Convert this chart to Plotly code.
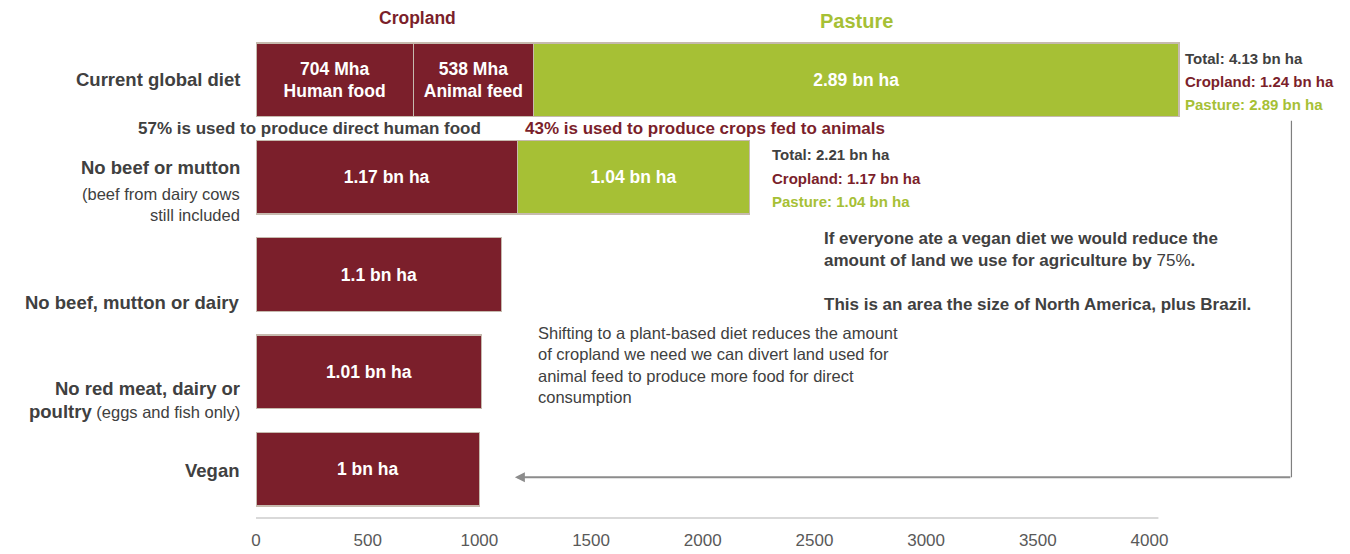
import plotly.graph_objects as go

# ---------------- data ----------------
categories = ["Current global diet", "No beef or mutton", "No beef, mutton or dairy",
              "No red meat, dairy or poultry", "Vegan"]
# land use in million hectares (Mha)
cropland_food = [704, 1170, 1100, 1010, 1000]   # cropland (human food part for current diet)
cropland_feed = [538, None, None, None, None]   # cropland used for animal feed
pasture = [2890, 1040, None, None, None]        # pasture land

food_labels = ["704 Mha<br>Human food", "1.17 bn ha", "1.1 bn ha", "1.01 bn ha", "1 bn ha"]
feed_labels = ["538 Mha<br>Animal feed", "", "", "", ""]
pasture_labels = ["2.89 bn ha", "1.04 bn ha", "", "", ""]

x_ticks = [0, 500, 1000, 1500, 2000, 2500, 3000, 3500, 4000]

totals_current = ["Total: 4.13 bn ha", "Cropland: 1.24 bn ha", "Pasture: 2.89 bn ha"]
totals_nobeef = ["Total: 2.21 bn ha", "Cropland: 1.17 bn ha", "Pasture: 1.04 bn ha"]

# ---------------- style ----------------
FONT = "Liberation Sans, Arial, sans-serif"
MAROON = "#7B1F2B"
GREEN = "#A6C035"
GRAY = "#404040"
OUTLINE = "#C6BAAE"

OFF = 8                      # page body margin in the browser
W_PX, H_PX = 1350 - OFF, 554 - OFF
L, R_EDGE = 256 - OFF, 1183.5 - OFF
T, B = 31.4 - OFF, 517.6 - OFF
PW, PH = R_EDGE - L, B - T


def px(x):
    return (x - OFF - L) / PW


def py(y):
    return (B - (y - OFF)) / PH


fig = go.Figure()

fig.add_trace(go.Bar(
    y=categories, x=cropland_food, orientation="h", name="Cropland",
    marker=dict(color=MAROON, line=dict(color=OUTLINE, width=1.5)),
    text=food_labels, textposition="inside", insidetextanchor="middle", textangle=0,
    textfont=dict(family=FONT, color="white", size=[20.5, 17.5, 17.5, 17.5, 17.5], weight="bold"),
    hoverinfo="x+y",
))
fig.add_trace(go.Bar(
    y=categories, x=cropland_feed, orientation="h", name="Animal feed",
    marker=dict(color=MAROON, line=dict(color=OUTLINE, width=1.5)),
    text=feed_labels, textposition="inside", insidetextanchor="middle", textangle=0,
    textfont=dict(family=FONT, color="white", size=20.5, weight="bold"),
    hoverinfo="x+y",
))
fig.add_trace(go.Bar(
    y=categories, x=pasture, orientation="h", name="Pasture",
    marker=dict(color=GREEN, line=dict(color=OUTLINE, width=1.5)),
    text=pasture_labels, textposition="inside", insidetextanchor="middle", textangle=0,
    textfont=dict(family=FONT, color="white", size=17.5, weight="bold"),
    hoverinfo="x+y",
))


def ann(text, xp, yp, size, color, bold=False, xanchor="left", align="left"):
    return dict(text=text, x=px(xp), y=py(yp), xref="paper", yref="paper",
                xanchor=xanchor, yanchor="middle", showarrow=False, align=align,
                font=dict(family=FONT, size=size, color=color,
                          weight="bold" if bold else "normal"))


annotations = [
    ann("Cropland", 418, 18, 17.5, MAROON, True, "center", "center"),
    ann("Pasture", 857, 21, 20, GREEN, True, "center", "center"),
    # category labels
    ann("Current global diet", 242, 80, 18.5, GRAY, True, "right", "right"),
    ann("No beef or mutton", 242, 168, 18.5, GRAY, True, "right", "right"),
    ann("(beef from dairy cows", 242, 194, 16.5, GRAY, False, "right", "right"),
    ann("still included", 242, 215, 16.5, GRAY, False, "right", "right"),
    ann("No beef, mutton or dairy", 242, 302, 18.5, GRAY, True, "right", "right"),
    ann("No red meat, dairy or", 242, 388, 18.5, GRAY, True, "right", "right"),
    ann("<b style='font-size:18.5px'>poultry</b> (eggs and fish only)", 242, 411, 16.5, GRAY, False, "right", "right"),
    ann("Vegan", 242, 470, 18.5, GRAY, True, "right", "right"),
    # notes under current diet
    ann("57% is used to produce direct human food", 310, 129, 17, GRAY, True, "center", "center"),
    ann("43% is used to produce crops fed to animals", 523, 129, 17, MAROON, True),
    # vegan note
    ann("<b>If everyone ate a vegan diet we would reduce the<br>"
        "amount of land we use for agriculture by </b>75%<b>.</b><br><br>"
        "<b>This is an area the size of North America, plus Brazil.</b>",
        822, 272, 17, GRAY, False),
    ann("Shifting to a plant-based diet reduces the amount<br>"
        "of cropland we need we can divert land used for<br>"
        "animal feed to produce more food for direct<br>"
        "consumption", 536, 365, 16.5, GRAY, False),
]

tot_colors = [GRAY, MAROON, GREEN]
for i, (t, c) in enumerate(zip(totals_current, tot_colors)):
    annotations.append(ann(t, 1183, 59 + 23 * i, 15, c, True))
for i, (t, c) in enumerate(zip(totals_nobeef, tot_colors)):
    annotations.append(ann(t, 770, 155 + 23.5 * i, 15, c, True))

# arrow from the right side back to the vegan bar
annotations.append(dict(
    text="", x=px(515), y=py(477), xref="paper", yref="paper",
    ax=1292 - 515, ay=0, showarrow=True, arrowhead=2, arrowsize=1,
    arrowwidth=2, arrowcolor="#8C8C8C", standoff=0,
))

shapes = [
    dict(type="line", xref="paper", yref="paper", x0=px(1292), x1=px(1292),
         y0=py(121), y1=py(477), line=dict(color="#7F7F7F", width=1.2)),
    dict(type="line", xref="x", yref="paper", x0=0, x1=4040, y0=0, y1=0,
         line=dict(color="#D9D9D9", width=2)),
]

fig.update_layout(
    width=W_PX, height=H_PX,
    margin=dict(l=L, r=W_PX - R_EDGE, t=T, b=H_PX - B, pad=0, autoexpand=False),
    barmode="stack", bargap=0.245,
    showlegend=False,
    plot_bgcolor="white", paper_bgcolor="white",
    font=dict(family=FONT, color=GRAY),
    annotations=annotations, shapes=shapes,
    xaxis=dict(range=[0, 4150], tickvals=x_ticks, ticktext=[str(v) for v in x_ticks],
               showgrid=False, zeroline=False, showline=False, ticks="",
               automargin=False, ticklabelstandoff=10,
               tickfont=dict(family=FONT, size=17, color="#595959")),
    yaxis=dict(categoryorder="array", categoryarray=categories, range=[4.5, -0.5],
               automargin=False,
               showticklabels=False, showgrid=False, zeroline=False, showline=False, ticks=""),
    uniformtext=dict(mode="show", minsize=10),
)

fig.write_html("out.html")
